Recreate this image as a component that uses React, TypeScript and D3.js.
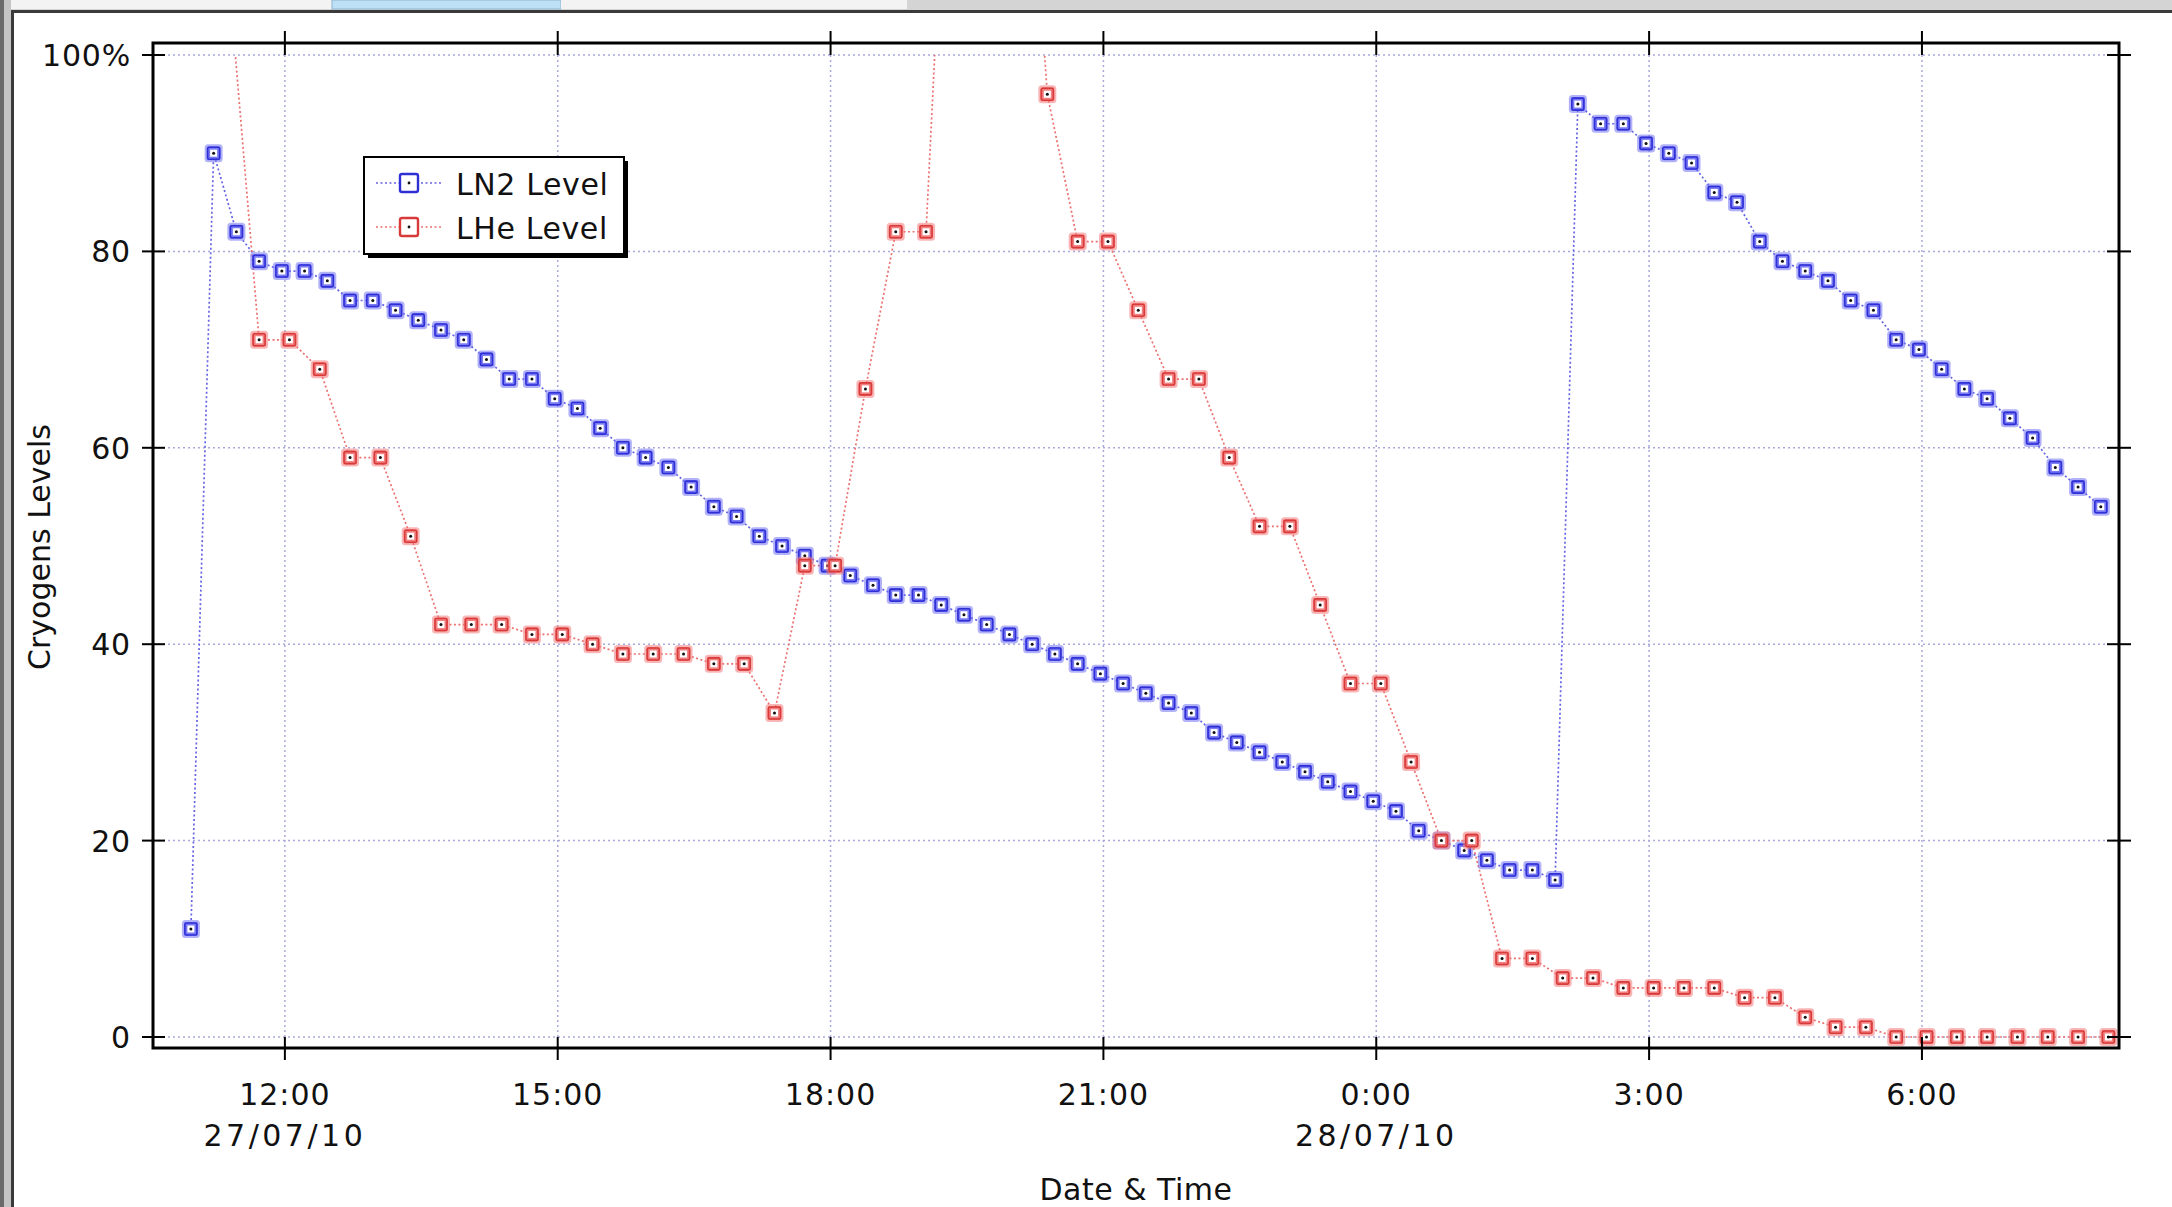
import React, { useEffect } from "react";
import * as d3 from "d3";

const W = 2172;
const H = 1207;

// LN2 level, sampled every 15 minutes starting 27/07/10 10:58
const ln2Start = "2010-07-27 10:58";
const ln2StepMinutes = 15;
const ln2Values = [
  11, 90, 82, 79, 78, 78, 77, 75, 75, 74,
  73, 72, 71, 69, 67, 67, 65, 64, 62, 60,
  59, 58, 56, 54, 53, 51, 50, 49, 48, 47,
  46, 45, 45, 44, 43, 42, 41, 40, 39, 38,
  37, 36, 35, 34, 33, 31, 30, 29, 28, 27,
  26, 25, 24, 23, 21, 20, 19, 18, 17, 17,
  16, 95, 93, 93, 91, 90, 89, 86, 85, 81,
  79, 78, 77, 75, 74, 71, 70, 68, 66, 65,
  63, 61, 58, 56, 54,
];

// LHe level, sampled every 20 minutes starting 27/07/10 11:23
const lheStart = "2010-07-27 11:23";
const lheStepMinutes = 20;
const lheValues = [
  108, 71, 71, 68, 59, 59, 51, 42, 42, 42,
  41, 41, 40, 39, 39, 39, 38, 38, 33, 48,
  48, 66, 82, 82, 145, 150, 140, 96, 81, 81,
  74, 67, 67, 59, 52, 52, 44, 36, 36, 28,
  20, 20, 8, 8, 6, 6, 5, 5, 5, 5,
  4, 4, 2, 1, 1, 0, 0, 0, 0, 0,
  0, 0, 0,
];

const xDomain = ["2010-07-27 10:33", "2010-07-28 08:10"];
const xTickTimes = [
  "2010-07-27 12:00",
  "2010-07-27 15:00",
  "2010-07-27 18:00",
  "2010-07-27 21:00",
  "2010-07-28 00:00",
  "2010-07-28 03:00",
  "2010-07-28 06:00",
];
const xTickLabels = ["12:00", "15:00", "18:00", "21:00", "0:00", "3:00", "6:00"];
const xTickDates = ["27/07/10", "", "", "", "28/07/10", "", ""];
const yTicks = [0, 20, 40, 60, 80, 100];
const yTickLabels = ["0", "20", "40", "60", "80", "100%"];
const seriesNames = ["LN2 Level", "LHe Level"];

const parse = d3.timeParse("%Y-%m-%d %H:%M");
const FONT = "'DejaVu Sans', Verdana, sans-serif";

type Pt = { t: Date; v: number };

function buildSeries(start: string, step: number, vals: number[]): Pt[] {
  const t0 = parse(start) as Date;
  return vals.map((v, i) => ({ t: d3.timeMinute.offset(t0, i * step), v }));
}

const COLORS = {
  ln2: { line: "#6464e4", halo: "#7272f2", edge: "#2f2fd6" },
  lhe: { line: "#ec7070", halo: "#f27a7a", edge: "#d83a3a" },
};

function Marker({ cx, cy, c }: { cx: number; cy: number; c: { halo: string; edge: string } }) {
  return (
    <g>
      <rect x={cx - 9} y={cy - 9} width={18} height={18} rx={3.5} fill={c.halo} opacity={0.55} />
      <rect x={cx - 7} y={cy - 7} width={14} height={14} rx={2} fill={c.halo} opacity={0.9} />
      <rect x={cx - 6} y={cy - 6} width={12} height={12} rx={1.5} fill="none" stroke={c.edge} strokeWidth={1.6} />
      <rect x={cx - 3.5} y={cy - 3.5} width={7} height={7} fill="#fff" />
      <circle cx={cx} cy={cy} r={1.5} fill="#111" />
    </g>
  );
}

export default function App() {
  useEffect(() => {
    document.body.style.margin = "0";
  }, []);

  const left = 153;
  const right = 2119;
  const frameTop = 43;
  const frameBottom = 1048;

  const x = d3
    .scaleTime()
    .domain(xDomain.map((s) => parse(s) as Date))
    .range([left, right]);
  const y = d3.scaleLinear().domain([0, 100]).range([1037, 55]);

  const ln2 = buildSeries(ln2Start, ln2StepMinutes, ln2Values);
  const lhe = buildSeries(lheStart, lheStepMinutes, lheValues);

  const line = d3
    .line<Pt>()
    .x((d) => x(d.t))
    .y((d) => y(d.v));

  const xt = xTickTimes.map((s) => parse(s) as Date);

  const series = [
    { data: ln2, c: COLORS.ln2 },
    { data: lhe, c: COLORS.lhe },
  ];

  return (
    <svg
      width={W}
      height={H}
      viewBox={`0 0 ${W} ${H}`}
      style={{ position: "absolute", left: 0, top: 0, display: "block", background: "#fff" }}
      fontFamily={FONT}
    >
      <defs>
        <clipPath id="plotClip">
          <rect x={left} y={y(100)} width={right - left} height={frameBottom - y(100)} />
        </clipPath>
      </defs>

      {/* window chrome */}
      <rect x={0} y={0} width={W} height={H} fill="#fff" />
      <rect x={0} y={0} width={W} height={10} fill="#d4d4d4" />
      <rect x={0} y={0} width={332} height={9} fill="#f3f3f3" />
      <rect x={332} y={0} width={229} height={9} fill="#bde0f6" stroke="#8fb4cf" strokeWidth={1} />
      <rect x={561} y={0} width={346} height={9} fill="#f3f3f3" />
      <line x1={0} x2={W} y1={11.5} y2={11.5} stroke="#3a3a3a" strokeWidth={3} />
      <rect x={0} y={0} width={11} height={H} fill="#c4c4c4" />
      <rect x={0} y={0} width={4} height={H} fill="#6a6a6a" />
      <line x1={12.5} x2={12.5} y1={10} y2={H} stroke="#3a3a3a" strokeWidth={3} />

      {/* grid */}
      {yTicks.map((v) => (
        <line
          key={"gy" + v}
          x1={left}
          x2={right}
          y1={y(v)}
          y2={y(v)}
          stroke="#a9a9dc"
          strokeWidth={1.5}
          strokeDasharray="2 3"
        />
      ))}
      {xt.map((t, i) => (
        <line
          key={"gx" + i}
          x1={x(t)}
          x2={x(t)}
          y1={y(100)}
          y2={y(0)}
          stroke="#a9a9dc"
          strokeWidth={1.5}
          strokeDasharray="2 3"
        />
      ))}

      {/* series lines */}
      <g clipPath="url(#plotClip)">
        {series.map((s, i) => (
          <path
            key={"l" + i}
            d={line(s.data) || ""}
            fill="none"
            stroke={s.c.line}
            strokeWidth={1.7}
            strokeDasharray="2 2.5"
          />
        ))}
      </g>

      {/* markers */}
      {series.map((s, i) => (
        <g key={"m" + i}>
          {s.data
            .filter((d) => d.v <= 100)
            .map((d, j) => (
              <Marker key={j} cx={x(d.t)} cy={y(d.v)} c={s.c} />
            ))}
        </g>
      ))}

      {/* frame */}
      <rect
        x={left}
        y={frameTop}
        width={right - left}
        height={frameBottom - frameTop}
        fill="none"
        stroke="#000"
        strokeWidth={3}
      />

      {/* x ticks (top & bottom) */}
      {xt.map((t, i) => (
        <g key={"xt" + i}>
          <line x1={x(t)} x2={x(t)} y1={31} y2={55} stroke="#000" strokeWidth={2} />
          <line x1={x(t)} x2={x(t)} y1={1037} y2={1060} stroke="#000" strokeWidth={2} />
          <text x={x(t)} y={1105} textAnchor="middle" fontSize={30} fill="#111" letterSpacing={1}>
            {xTickLabels[i]}
          </text>
          {xTickDates[i] && (
            <text x={x(t)} y={1146} textAnchor="middle" fontSize={30} fill="#111" letterSpacing={3.5}>
              {xTickDates[i]}
            </text>
          )}
        </g>
      ))}

      {/* y ticks (left & right) */}
      {yTicks.map((v, i) => (
        <g key={"yt" + v}>
          <line x1={142} x2={165} y1={y(v)} y2={y(v)} stroke="#000" strokeWidth={2} />
          <line x1={2107} x2={2131} y1={y(v)} y2={y(v)} stroke="#000" strokeWidth={2} />
          <text x={131} y={y(v) + 11} textAnchor="end" fontSize={30} fill="#111" letterSpacing={0.8}>
            {yTickLabels[i]}
          </text>
        </g>
      ))}

      {/* axis titles */}
      <text x={(left + right) / 2} y={1200} textAnchor="middle" fontSize={30} fill="#111" letterSpacing={0.5}>
        Date &amp; Time
      </text>
      <text
        transform={`translate(50, ${(y(0) + y(100)) / 2 + 1}) rotate(-90)`}
        textAnchor="middle"
        fontSize={30}
        fill="#111"
      >
        Cryogens Levels
      </text>

      {/* legend */}
      <g>
        <rect x={368} y={161} width={260} height={97} fill="#000" />
        <rect x={364} y={157} width={260} height={97} fill="#fff" stroke="#000" strokeWidth={2} />
        {[COLORS.ln2, COLORS.lhe].map((c, i) => {
          const ly = 183 + i * 44;
          return (
            <g key={"lg" + i}>
              <line x1={376} x2={442} y1={ly} y2={ly} stroke={c.line} strokeWidth={1.6} strokeDasharray="2 2.5" />
              <rect x={400} y={ly - 9} width={18} height={18} rx={2} fill="#fff" stroke={c.edge} strokeWidth={2.4} />
              <circle cx={409} cy={ly} r={1.4} fill="#111" />
              <text x={456} y={ly + 12} fontSize={30} fill="#111" letterSpacing={0.6}>
                {seriesNames[i]}
              </text>
            </g>
          );
        })}
      </g>
    </svg>
  );
}
